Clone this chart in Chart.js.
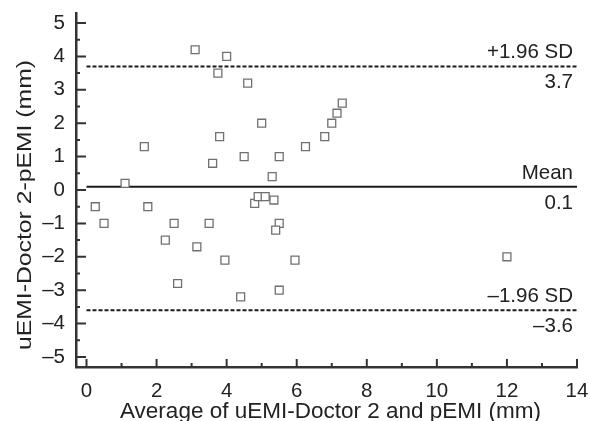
<!DOCTYPE html>
<html>
<head>
<meta charset="utf-8">
<script src="https://cdn.jsdelivr.net/npm/chart.js@4"></script>
<style>
  html, body { margin: 0; padding: 0; background: #fff; }
  #wrap { width: 590px; height: 421px; }
</style>
</head>
<body>
<div id="wrap"><canvas id="ba" width="590" height="421"></canvas></div>
<script>
// mean of the two methods (x) and their difference (y)
var avgValues = [3.1, 4.0, 3.75, 4.6, 5.0, 3.8, 1.65, 3.6, 4.5, 5.5, 5.3, 1.1,
                 0.25, 1.75, 4.8, 4.9, 5.1, 5.35, 0.5, 2.5, 3.5, 2.25, 3.15, 3.95,
                 2.6, 4.4, 5.5, 5.95, 5.5, 5.4, 6.25, 6.8, 7.0, 7.15, 7.3, 12.0];
var diffValues = [4.2, 4.0, 3.5, 3.2, 2.0, 1.6, 1.3, 0.8, 1.0, 1.0, 0.4, 0.2,
                  -0.5, -0.5, -0.4, -0.2, -0.2, -0.3, -1.0, -1.0, -1.0, -1.5, -1.7, -2.1,
                  -2.8, -3.2, -3.0, -2.1, -1.0, -1.2, 1.3, 1.6, 2.0, 2.3, 2.6, -2.0];

// reference lines: +1.96 SD, mean, -1.96 SD
var refValues = [3.7, 0.1, -3.6];
var refNames = ['+1.96 SD', 'Mean', '\u20131.96 SD'];
var refLabels = ['3.7', '0.1', '\u20133.6'];
var refSpan = [0, 14];

var xTicks = [0, 2, 4, 6, 8, 10, 12, 14];
var yTicks = [-5, -4, -3, -2, -1, 0, 1, 2, 3, 4, 5];

var xTitle = 'Average of uEMI-Doctor 2 and pEMI (mm)';
var yTitle = 'uEMI-Doctor 2-pEMI (mm)';

var FONT = '"Liberation Sans", Arial, sans-serif';
var INK = '#222';

function fmt(v) {
    return v < 0 ? '\u2013' + Math.abs(v) : String(v);
}

function midpoints(arr) {
    var out = [];
    for (var i = 0; i < arr.length - 1; i++) out.push((arr[i] + arr[i + 1]) / 2);
    return out;
}

var points = avgValues.map(function(x, i){ return { x: x, y: diffValues[i] }; });

var refSets = refValues.map(function(v, i){
    return {
        type: 'line',
        data: refSpan.map(function(x){ return { x: x, y: v }; }),
        borderColor: '#1a1a1a',
        borderWidth: 2,
        borderDash: i === 1 ? [] : [4, 2],
        pointRadius: 0,
        fill: false
    };
});

// inward ticks, axis titles and the labels on the reference lines
var decor = {
    id: 'decor',
    afterDraw: function(chart){
        var c = chart.ctx, a = chart.chartArea;
        var xs = chart.scales.x, ys = chart.scales.y;
        c.save();
        c.strokeStyle = '#333';
        c.lineWidth = 2;
        c.beginPath();
        xTicks.forEach(function(v){
            var p = xs.getPixelForValue(v);
            c.moveTo(p, a.bottom); c.lineTo(p, a.bottom - 8);
        });
        midpoints(xTicks).forEach(function(v){
            var p = xs.getPixelForValue(v);
            c.moveTo(p, a.bottom); c.lineTo(p, a.bottom - 4);
        });
        yTicks.forEach(function(v){
            var p = ys.getPixelForValue(v);
            c.moveTo(a.left, p); c.lineTo(a.left + 10, p);
        });
        midpoints(yTicks).forEach(function(v){
            var p = ys.getPixelForValue(v);
            c.moveTo(a.left, p); c.lineTo(a.left + 4, p);
        });
        c.stroke();

        c.fillStyle = INK;
        c.font = '20.5px ' + FONT;
        c.textAlign = 'right';
        c.textBaseline = 'alphabetic';
        var rx = xs.getPixelForValue(refSpan[1]) - 4;
        refValues.forEach(function(v, i){
            var p = ys.getPixelForValue(v);
            c.fillText(refNames[i], rx, p - 8);
            c.fillText(refLabels[i], rx, p + 22);
        });

        // axis titles
        c.textAlign = 'center';
        c.font = '22.5px ' + FONT;
        c.fillText(xTitle, (a.left + a.right) / 2 + 4, 418);
        c.save();
        c.font = '20px ' + FONT;
        c.translate(31, (a.top + a.bottom) / 2 + 15);
        c.rotate(-Math.PI / 2);
        c.scale(290 / c.measureText(yTitle).width, 1);
        c.fillText(yTitle, 0, 0);
        c.restore();
        c.restore();
    }
};

new Chart(document.getElementById('ba').getContext('2d'), {
    type: 'scatter',
    data: {
        datasets: [{
            data: points,
            pointStyle: 'rect',
            pointRadius: 5.6,
            pointHoverRadius: 5.6,
            borderColor: '#707070',
            backgroundColor: '#fff',
            borderWidth: 1.3
        }].concat(refSets)
    },
    options: {
        responsive: false,
        animation: false,
        layout: { padding: { top: 13, right: 13, left: 0, bottom: 0 } },
        plugins: {
            legend: { display: false },
            tooltip: { enabled: false }
        },
        scales: {
            x: {
                type: 'linear',
                min: -0.3,
                max: 14,
                afterBuildTicks: function(s){ s.ticks = xTicks.map(function(v){ return { value: v }; }); },
                afterFit: function(s){ s.height = 54; s.paddingLeft = 0; s.paddingRight = 0; },
                grid: { display: false },
                border: { display: true, color: '#333', width: 2.5 },
                ticks: { color: INK, font: { family: FONT, size: 20.5, lineHeight: 1 }, padding: 6, maxRotation: 0,
                         callback: function(v){ return fmt(v); } },
                title: { display: false }
            },
            y: {
                min: -5.3,
                max: 5.3,
                afterBuildTicks: function(s){ s.ticks = yTicks.map(function(v){ return { value: v }; }); },
                afterFit: function(s){ s.width = 76; s.paddingTop = 0; s.paddingBottom = 0; },
                grid: { display: false },
                border: { display: true, color: '#333', width: 2.5 },
                ticks: { color: INK, font: { family: FONT, size: 20.5, lineHeight: 1 }, padding: 3,
                         callback: function(v){ return fmt(v); } },
                title: { display: false }
            }
        }
    },
    plugins: [decor]
});
</script>
</body>
</html>
